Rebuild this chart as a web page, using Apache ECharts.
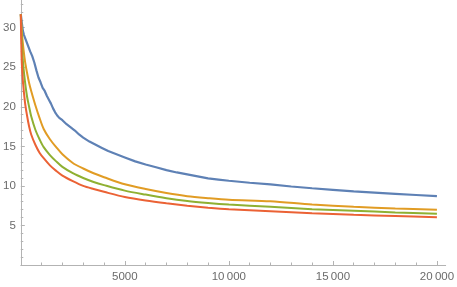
<!DOCTYPE html>
<html><head><meta charset="utf-8">
<script src="https://cdn.jsdelivr.net/npm/echarts@6/dist/echarts.min.js"></script>
<style>html,body{margin:0;padding:0;background:#fff}#c{width:457px;height:287px}</style>
</head><body><div id="c"></div>
<script>
const xMajorTicks = [5000, 10000, 15000, 20000];
const yMajorTicks = [5, 10, 15, 20, 25, 30];

const blueX = [0,50,100,150,250,350,450,550,650,750,850,950,1050,1150,1250,1350,1450,1550,1650,1750,1850,2000,2200,2400,2600,2800,3000,3300,3600,3900,4200,4600,5000,5500,6000,6500,7000,7500,8000,8500,9000,9500,10000,11000,12000,13000,14000,15000,16000,17000,18000,19000,20000];
const blueY = [31.7,30.6,29.6,29.1,28.4,27.7,27.0,26.4,25.6,24.6,23.7,23.1,22.4,22.0,21.4,20.9,20.4,19.8,19.3,18.9,18.6,18.3,17.8,17.4,17.0,16.5,16.1,15.6,15.2,14.8,14.4,14.0,13.6,13.1,12.7,12.35,12.0,11.7,11.45,11.2,10.95,10.8,10.65,10.4,10.2,9.92,9.7,9.5,9.3,9.15,9.0,8.85,8.7];

const smoothX = [0,20,50,100,200,300,400,500,700,900,1100,1400,1700,2000,2500,3000,3500,4000,5000,6000,7000,8000,9000,10000,12000,14000,16000,18000,20000];
const orangeY = [31.7,30.8,29.5,28.0,25.8,24.3,23.0,22.0,20.2,18.6,17.2,15.9,14.9,14.0,12.9,12.2,11.6,11.1,10.2,9.6,9.1,8.7,8.45,8.25,8.05,7.65,7.35,7.15,6.98];
const greenY = [31.7,30.0,28.3,25.8,23.2,21.3,20.0,18.8,17.1,15.9,14.9,13.9,13.1,12.4,11.6,11.0,10.5,10.1,9.4,8.9,8.45,8.1,7.85,7.65,7.35,7.05,6.85,6.65,6.48];
const redY = [31.7,28.5,25.5,23.3,20.6,18.9,17.5,16.5,15.2,14.2,13.5,12.6,11.9,11.3,10.6,10.0,9.6,9.25,8.6,8.15,7.8,7.5,7.25,7.05,6.8,6.55,6.35,6.2,6.05];

const xMinorTicks = [];
for (let v = 1000; v <= 20000; v += 1000) if (v % 5000 !== 0) xMinorTicks.push(v);
const yMinorTicks = [];
for (let v = 1; v <= 33; v += 1) if (v % 5 !== 0) yMinorTicks.push(v);

const pair = (xs, ys) => xs.map((x, i) => [x, ys[i]]);
const axisColor = '#b3b3b3';
const labelColor = '#6b6b6b';
const font = 'Liberation Sans, Arial, sans-serif';

function fmt(v){ return v >= 10000 ? String(v).replace(/(\d)(\d{3})$/, '$1\u2009$2') : String(v); }

const chart = echarts.init(document.getElementById('c'), null, {renderer:'canvas'});
const xBase = {type:'value', min:0, max:20420, splitLine:{show:false}};
const yBase = {type:'value', min:0, max:33.5, splitLine:{show:false}};
chart.setOption({
  animation:false,
  grid:{left:17.7, right:11.3, top:0, bottom:22, containLabel:false},
  xAxis:[
    Object.assign({}, xBase, {
      axisLine:{show:true, onZero:false, lineStyle:{color:axisColor, width:1}},
      axisTick:{show:true, inside:true, length:4, customValues:xMajorTicks, lineStyle:{color:axisColor}},
      axisLabel:{show:true, customValues:xMajorTicks, formatter:fmt, color:labelColor, fontSize:11.5, fontFamily:font, margin:6}
    }),
    Object.assign({}, xBase, {
      position:'bottom',
      axisLine:{show:false},
      axisTick:{show:true, inside:true, length:2.5, customValues:xMinorTicks, lineStyle:{color:axisColor}},
      axisLabel:{show:false}
    })
  ],
  yAxis:[
    Object.assign({}, yBase, {
      axisLine:{show:true, onZero:false, lineStyle:{color:axisColor, width:1}},
      axisTick:{show:true, inside:true, length:4, customValues:yMajorTicks, lineStyle:{color:axisColor}},
      axisLabel:{show:true, customValues:yMajorTicks, color:labelColor, fontSize:11.5, fontFamily:font, margin:5}
    }),
    Object.assign({}, yBase, {
      position:'left',
      axisLine:{show:false},
      axisTick:{show:true, inside:true, length:2.5, customValues:yMinorTicks, lineStyle:{color:axisColor}},
      axisLabel:{show:false}
    })
  ],
  series:[
    {type:'line', data:pair(blueX, blueY), showSymbol:false, lineStyle:{color:'#5E81B5', width:2.2}, itemStyle:{color:'#5E81B5'}},
    {type:'line', data:pair(smoothX, orangeY), showSymbol:false, smooth:0.3, lineStyle:{color:'#E19C24', width:2}, itemStyle:{color:'#E19C24'}},
    {type:'line', data:pair(smoothX, greenY), showSymbol:false, smooth:0.3, lineStyle:{color:'#8FB032', width:2}, itemStyle:{color:'#8FB032'}},
    {type:'line', data:pair(smoothX, redY), showSymbol:false, smooth:0.3, lineStyle:{color:'#EB6235', width:2}, itemStyle:{color:'#EB6235'}}
  ]
});
</script></body></html>
